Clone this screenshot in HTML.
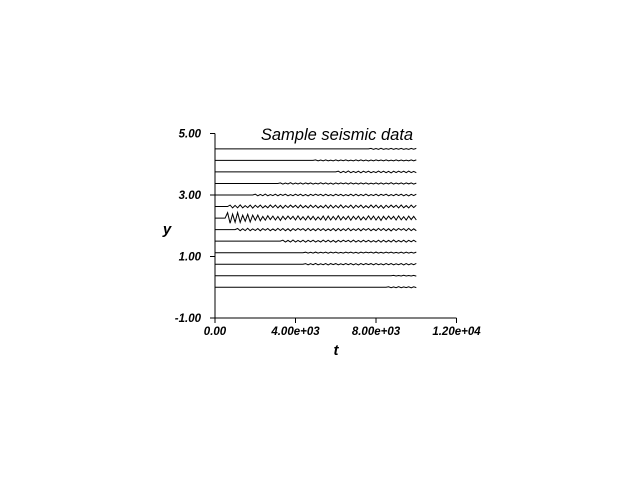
<!DOCTYPE html>
<html><head><meta charset="utf-8"><style>
html,body{margin:0;padding:0;background:#fff;}
svg{display:block;}
text{font-family:"Liberation Sans",sans-serif;font-style:italic;font-weight:bold;fill:#000;}
</style></head><body>
<svg id="chart" width="640" height="480">
<g id="axes"></g>
<g id="traces"></g>
<text x="337" y="140" font-size="16.5" text-anchor="middle" style="font-weight:normal">Sample seismic data</text>
<text x="167" y="234" font-size="15" text-anchor="middle">y</text>
<text x="336" y="355" font-size="15" text-anchor="middle">t</text>
</svg>
<script>
const xTicks = [0, 4000, 8000, 12000];
const xTickLabels = ["0.00", "4.00e+03", "8.00e+03", "1.20e+04"];
const yTicks = [-1, 1, 3, 5];
const yTickLabels = ["-1.00", "1.00", "3.00", "5.00"];
const baselines = [0, 0.375, 0.75, 1.125, 1.5, 1.875, 2.25, 2.625, 3.0, 3.375, 3.75, 4.125, 4.5];
const onsets = [8600, 8800, 4500, 4400, 3300, 1100, 600, 750, 1900, 3200, 6100, 4900, 7700];
const amps = [0.015, 0.01, 0.02, 0.015, 0.03, 0.035, 0.08, 0.045, 0.025, 0.02, 0.025, 0.015, 0.015];
const wave = [1,-1,0.8,-0.9,1.2,-1,0.7,-0.8,1,-1.1,0.9,-0.7,1,-1,0.6,-0.9,1.1,-0.8,1,-1,0.8,-1.2,0.9,-0.8,1,-0.6,0.9,-1,1.1,-0.9,0.7,-1,1,-0.8,0.9,-1,0.6,-0.9,1,-1.1];
const decay = [1,1,1,1,1,1,2.2,1,1,1,1,1,1];
const tMax = 10000, dt = 125;

const X = t => 215 + (t/4000)*80.5;
const Y = v => 318 - (v+1)*30.75;
const NS = "http://www.w3.org/2000/svg";
const axes = document.getElementById('axes');
const traces = document.getElementById('traces');
function mk(tag, attrs, parent){const e=document.createElementNS(NS,tag);for(const k in attrs)e.setAttribute(k,attrs[k]);parent.appendChild(e);return e;}

let ax = mk('line',{x1:X(0),y1:Y(-1),x2:X(12000),y2:Y(-1),stroke:'#000','stroke-width':1},axes);


let ay = mk('line',{x1:X(0),y1:Y(-1),x2:X(0),y2:Y(5),stroke:'#000','stroke-width':1},axes);


xTicks.forEach((t,i)=>{
  const l=mk('line',{x1:X(t),y1:Y(-1),x2:X(t),y2:Y(-1)+5,stroke:'#000'},axes);
  
  
  const tx=mk('text',{x:X(t),y:Y(-1)+17,'font-size':11.5,'text-anchor':'middle'},axes);
  tx.textContent=xTickLabels[i];
  
  
});
yTicks.forEach((v,i)=>{
  const l=mk('line',{x1:X(0)-5,y1:Y(v),x2:X(0),y2:Y(v),stroke:'#000'},axes);
  
  
  const tx=mk('text',{x:X(0)-14,y:Y(v)+4,'font-size':11.5,'text-anchor':'end'},axes);
  tx.textContent=yTickLabels[i];
  
  
});
baselines.forEach((b,i)=>{
  let pts=[];
  let k=0;
  for(let t=0;t<=tMax;t+=dt){
    let v=b;
    if(t>=onsets[i]){
      const age=(t-onsets[i])/tMax;
      const env=decay[i]>1?Math.max(0.8,decay[i]*(1-age*3)):1;
      v=b+amps[i]*env*wave[k%wave.length];
      k++;
    }
    pts.push(X(t).toFixed(1)+','+Y(v).toFixed(1));
  }
  const p=mk('polyline',{points:pts.join(' '),fill:'none',stroke:'#000','stroke-width':1},traces);
  
  
});
</script>
</body></html>
